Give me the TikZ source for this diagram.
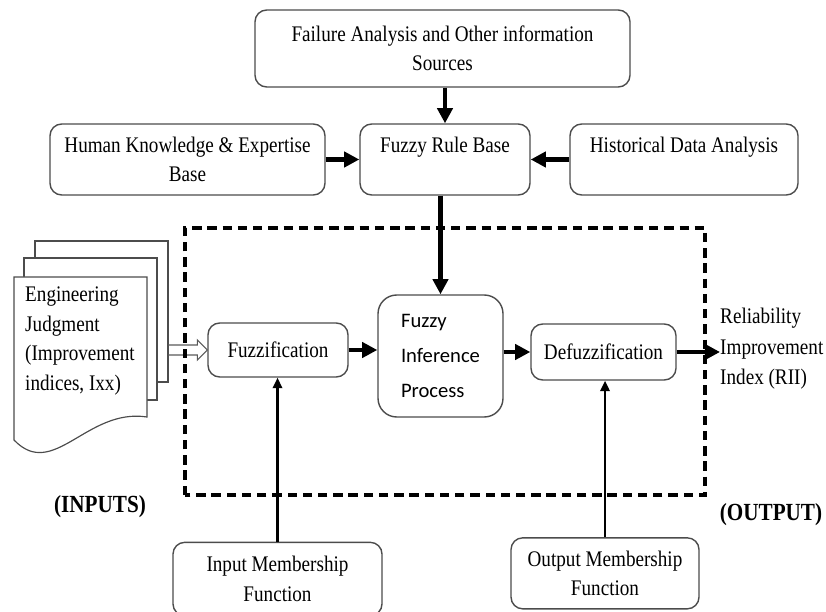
\documentclass[tikz,border=0pt]{standalone}
\usepackage{fontspec}
\setmainfont{Liberation Serif}[FakeStretch=0.86]
\newfontfamily\infsans{Carlito}
\usepackage{tikz}
\usetikzlibrary{arrows.meta}
\usetikzlibrary{calc}

\begin{document}
\begin{tikzpicture}[
    box/.style={draw=black!70, line width=1.2pt, rounded corners=10pt, align=center,
        font=\fontsize{19}{25}\selectfont, inner sep=2pt},
    bigarrow/.style={line width=3.8pt, -{Triangle[length=13pt,width=13pt]}},
    thinarrow/.style={line width=2.2pt, -{Triangle[length=9pt,width=8pt]}}
]
    \useasboundingbox (0,0) rectangle (24.78,18.33);

    \node[box, minimum width=11.25cm, minimum height=2.31cm] (fail) at (13.275,16.875)
        {Failure Analysis and Other information\\Sources};
    \node[box, minimum width=5.1cm, minimum height=2.13cm] (rule) at (13.35,13.545)
        {Fuzzy Rule Base\\~};
    \node[box, minimum width=8.25cm, minimum height=2.13cm] (human) at (5.625,13.545)
        {Human Knowledge \& Expertise\\Base};
    \node[box, minimum width=6.84cm, minimum height=2.13cm] (hist) at (20.52,13.545)
        {Historical Data Analysis\\~};

    \draw[bigarrow] (fail.south -| rule) -- (rule.north);
    \draw[bigarrow] (human.east) -- (rule.west);
    \draw[bigarrow] (hist.west) -- (rule.east);

    % documents
    \filldraw[draw=black!70, line width=1pt, fill=white] (1.05,6.87) rectangle (5.04,11.1);
    \filldraw[draw=black!70, line width=1pt, fill=white] (0.72,6.33) rectangle (4.71,10.59);
    \filldraw[draw=black!70, line width=1pt, fill=white] (0.42,10.02) -- (4.41,10.02) -- (4.41,5.82)
        .. controls (2.6,6.1) and (1.6,3.9) .. (0.42,5.13) -- cycle;
    \node[align=left, anchor=west, inner sep=0pt, font=\fontsize{19}{25.5}\selectfont] (eng) at (0.75,8.1)
        {Engineering\\Judgment\\(Improvement\\indices, Ixx)};
    \coordinate (docout) at (5.04,7.83);

    \node[box, minimum width=4.2cm, minimum height=1.62cm] (fuzz) at (8.34,7.83) {Fuzzification};
    \node[box, rounded corners=16pt, minimum width=3.75cm, minimum height=3.66cm, align=left,
        font=\infsans\fontsize{17.6}{30}\selectfont] (infer) at (13.215,7.65)
        {Fuzzy\\Inference\\Process};
    \node[box, minimum width=4.35cm, minimum height=1.68cm] (defuzz) at (18.105,7.77) {Defuzzification};
    \node[align=left, anchor=west, inner sep=0pt, font=\fontsize{19}{26}\selectfont] (out) at (21.6,7.86)
        {Reliability\\Improvement\\Index (RII)};

    \draw[black!65, line width=0.9pt] ($(docout)+(0,0.15)$) -- ($(fuzz.west)+(-0.3,0.15)$)
        -- ($(fuzz.west)+(-0.3,0.3)$) -- (fuzz.west) -- ($(fuzz.west)+(-0.3,-0.3)$)
        -- ($(fuzz.west)+(-0.3,-0.15)$) -- ($(docout)+(0,-0.15)$);

    \draw[bigarrow] (rule.south -| infer.north) -- (infer.north);
    \draw[bigarrow] (fuzz.east) -- (fuzz.east -| infer.west);
    \draw[bigarrow] (infer.east |- defuzz) -- (defuzz.west);
    \draw[bigarrow] (defuzz.east) -- (defuzz.east -| out.west);

    \draw[line width=3pt, dash pattern=on 8pt off 5pt] (5.55,3.48) rectangle (21.15,11.49);

    \node[box, minimum width=6.27cm, minimum height=2.2cm] (inmf) at (8.325,0.96)
        {Input Membership\\Function};
    \node[box, minimum width=5.64cm, minimum height=2.13cm] (outmf) at (18.15,1.13)
        {Output Membership\\Function};

    \draw[thinarrow] (inmf.north) -- (inmf.north |- fuzz.south);
    \draw[thinarrow] (outmf.north) -- (outmf.north |- defuzz.south);

    \node[font=\bfseries\fontsize{21}{25}\selectfont] (inlab) at (3.0,3.12) {(INPUTS)};
    \node[font=\bfseries\fontsize{21}{25}\selectfont] (outlab) at (23.13,2.88) {(OUTPUT)};

\end{tikzpicture}
\end{document}
